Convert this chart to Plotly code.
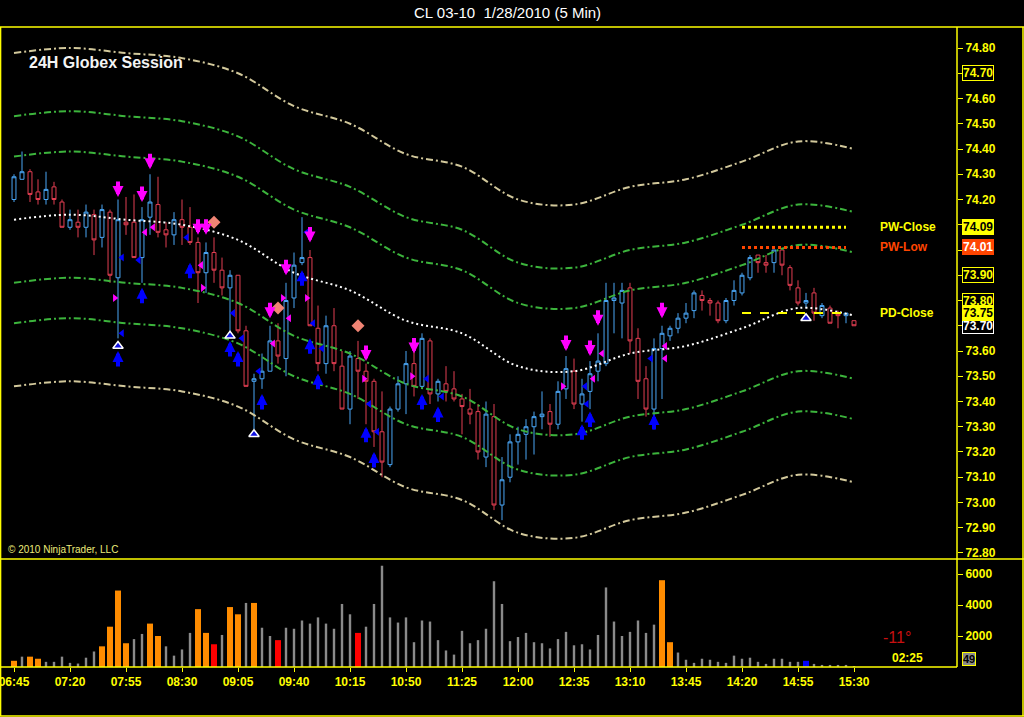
import plotly.graph_objects as go

# ---------------- data ----------------
time_labels = ["06:45", "07:20", "07:55", "08:30", "09:05", "09:40", "10:15", "10:50",
               "11:25", "12:00", "12:35", "13:10", "13:45", "14:20", "14:55", "15:30"]
label_bars = [0, 7, 14, 21, 28, 35, 42, 49, 56, 63, 70, 77, 84, 91, 98, 105]

opens = [74.20, 74.28, 74.31, 74.23, 74.20, 74.25, 74.19, 74.09, 74.11, 74.09,
         74.14, 74.05, 74.15, 73.89, 74.11, 74.11, 73.97, 74.13, 74.18, 74.08,
         74.06, 74.12, 74.09, 74.03, 73.91, 73.99, 73.92, 73.85, 73.90, 73.68,
         73.48, 73.49, 73.52, 73.64, 73.57, 73.81, 73.95, 73.97, 73.69, 73.55,
         73.70, 73.54, 73.37, 73.57, 73.52, 73.48, 73.28, 73.15, 73.37, 73.47,
         73.55, 73.46, 73.64, 73.43, 73.47, 73.45, 73.41, 73.37, 73.36, 73.18,
         73.34, 72.99, 73.10, 73.24, 73.27, 73.30, 73.34, 73.36, 73.31, 73.45,
         73.52, 73.39, 73.44, 73.52, 73.55, 73.80, 73.79, 73.85, 73.65, 73.49,
         73.37, 73.61, 73.66, 73.69, 73.73, 73.76, 73.82, 73.80, 73.79, 73.72,
         73.80, 73.83, 73.89, 73.98, 73.95, 73.95, 74.00, 73.93, 73.85, 73.79,
         73.83, 73.74, 73.77, 73.75, 73.74, 73.72]
highs = [74.30, 74.39, 74.32, 74.28, 74.31, 74.27, 74.20, 74.16, 74.16, 74.18,
         74.16, 74.18, 74.16, 74.20, 74.21, 74.22, 74.17, 74.30, 74.29, 74.11,
         74.15, 74.20, 74.17, 74.05, 74.03, 74.05, 73.97, 73.92, 73.90, 73.70,
         73.51, 73.59, 73.70, 73.71, 73.87, 73.99, 74.13, 74.00, 73.78, 73.74,
         73.77, 73.60, 73.60, 73.64, 73.55, 73.49, 73.44, 73.38, 73.50, 73.60,
         73.60, 73.67, 73.65, 73.49, 73.54, 73.52, 73.43, 73.45, 73.39, 73.40,
         73.39, 73.18, 73.27, 73.30, 73.33, 73.36, 73.44, 73.39, 73.48, 73.58,
         73.57, 73.49, 73.56, 73.67, 73.87, 73.87, 73.87, 73.87, 73.69, 73.54,
         73.65, 73.70, 73.70, 73.75, 73.79, 73.84, 73.84, 73.81, 73.80, 73.81,
         73.88, 73.91, 73.98, 73.98, 73.98, 74.00, 74.00, 73.94, 73.88, 73.83,
         73.85, 73.79, 73.78, 73.76, 73.75, 73.72]
lows = [74.19, 74.28, 74.19, 74.18, 74.18, 74.18, 74.09, 74.08, 74.05, 74.05,
        73.98, 74.01, 73.87, 73.65, 74.06, 73.97, 73.87, 74.06, 74.05, 74.01,
        74.02, 74.02, 74.02, 73.79, 73.83, 73.87, 73.82, 73.68, 73.67, 73.46,
        73.29, 73.45, 73.52, 73.55, 73.50, 73.77, 73.94, 73.70, 73.52, 73.51,
        73.52, 73.37, 73.31, 73.41, 73.31, 73.22, 73.10, 73.14, 73.36, 73.35,
        73.42, 73.45, 73.39, 73.40, 73.40, 73.40, 73.27, 73.31, 73.17, 73.14,
        72.97, 72.93, 73.08, 73.15, 73.17, 73.19, 73.29, 73.26, 73.29, 73.41,
        73.37, 73.32, 73.37, 73.48, 73.54, 73.67, 73.65, 73.59, 73.41, 73.34,
        73.29, 73.41, 73.64, 73.67, 73.71, 73.73, 73.76, 73.74, 73.71, 73.71,
        73.78, 73.82, 73.88, 73.91, 73.91, 73.91, 73.90, 73.84, 73.78, 73.77,
        73.72, 73.73, 73.71, 73.69, 73.71, 73.70]
closes = [74.29, 74.31, 74.22, 74.20, 74.24, 74.20, 74.09, 74.12, 74.09, 74.15,
          74.04, 74.16, 73.90, 74.12, 74.10, 73.97, 74.12, 74.19, 74.07, 74.06,
          74.12, 74.09, 74.03, 73.91, 73.99, 73.92, 73.85, 73.90, 73.68, 73.46,
          73.49, 73.52, 73.64, 73.58, 73.80, 73.94, 73.97, 73.70, 73.55, 73.70,
          73.55, 73.37, 73.58, 73.52, 73.48, 73.28, 73.16, 73.37, 73.47, 73.55,
          73.46, 73.65, 73.43, 73.48, 73.44, 73.41, 73.38, 73.35, 73.20, 73.35,
          72.99, 73.09, 73.24, 73.27, 73.30, 73.34, 73.35, 73.31, 73.44, 73.53,
          73.39, 73.43, 73.51, 73.56, 73.80, 73.81, 73.84, 73.64, 73.48, 73.37,
          73.61, 73.67, 73.69, 73.73, 73.75, 73.83, 73.80, 73.79, 73.72, 73.80,
          73.84, 73.90, 73.97, 73.95, 73.94, 74.00, 73.94, 73.86, 73.79, 73.80,
          73.75, 73.78, 73.71, 73.74, 73.75, 73.70]

volumes = [400, 667, 667, 533, 333, 333, 667, 267, 222, 600,
           1000, 1333, 2600, 4933, 1533, 1800, 2133, 2800, 2000, 1333,
           733, 1133, 2200, 3733, 2200, 1467, 2067, 3867, 3400, 4133,
           4133, 2533, 2000, 1733, 2533, 2467, 3000, 2800, 3200, 2800,
           2467, 4067, 3400, 2200, 2600, 4067, 6533, 3200, 2867, 3200,
           1600, 3000, 2933, 1733, 1067, 800, 2333, 1533, 1733, 2467,
           5533, 4067, 1667, 1933, 2200, 1600, 1533, 1200, 1800, 2267,
           1400, 1467, 1133, 2067, 5133, 2933, 2000, 2267, 3000, 2200,
           2733, 5600, 1600, 933, 467, 267, 533, 467, 333, 267,
           733, 533, 600, 333, 200, 533, 533, 333, 333, 400,
           200, 133, 133, 133, 133, 49]
orange_vol_bars = [0, 2, 3, 11, 12, 13, 14, 17, 18, 23, 24, 27, 28, 30, 81, 82]
red_vol_bars = [25, 33, 43]
blue_vol_bars = [99]

band_bars = label_bars
band_mid = [74.12, 74.14, 74.12, 74.10, 74.04, 73.91, 73.84, 73.72, 73.67, 73.54,
            73.52, 73.59, 73.62, 73.69, 73.77, 73.74]
band_up1 = [74.37, 74.39, 74.37, 74.35, 74.29, 74.16, 74.09, 73.97, 73.92, 73.79,
            73.77, 73.84, 73.87, 73.94, 74.02, 73.99]
band_up2 = [74.53, 74.55, 74.53, 74.51, 74.45, 74.32, 74.25, 74.13, 74.08, 73.95,
            73.93, 74.00, 74.03, 74.10, 74.18, 74.15]
band_up3 = [74.78, 74.80, 74.78, 74.76, 74.70, 74.57, 74.50, 74.38, 74.33, 74.20,
            74.18, 74.25, 74.28, 74.35, 74.43, 74.40]
band_dn1 = [73.87, 73.89, 73.87, 73.85, 73.79, 73.66, 73.59, 73.47, 73.42, 73.29,
            73.27, 73.34, 73.37, 73.44, 73.52, 73.49]
band_dn2 = [73.71, 73.73, 73.71, 73.69, 73.63, 73.50, 73.43, 73.31, 73.26, 73.13,
            73.11, 73.18, 73.21, 73.28, 73.36, 73.33]
band_dn3 = [73.46, 73.48, 73.46, 73.44, 73.38, 73.25, 73.18, 73.06, 73.01, 72.88,
            72.86, 72.93, 72.96, 73.03, 73.11, 73.08]

mag_down_bars = [13, 16, 17, 23, 24, 32, 34, 37, 44, 50, 69, 72, 73, 81]
mag_down_price = [74.21, 74.19, 74.32, 74.06, 74.06, 73.73, 73.90, 74.03, 73.56, 73.59,
                  73.60, 73.58, 73.70, 73.73]
blue_up_bars = [13, 16, 22, 27, 28, 31, 36, 37, 38, 44, 45, 51, 53, 71, 72, 80]
blue_up_price = [73.60, 73.85, 73.95, 73.64, 73.60, 73.43, 73.92, 73.65, 73.51, 73.30,
                 73.20, 73.43, 73.38, 73.31, 73.36, 73.35]
tri_bars = [13, 27, 30, 99]
tri_price = [73.62, 73.66, 73.27, 73.73]
diamond_bars = [25, 33, 43]
diamond_price = [74.11, 73.77, 73.70]
mag_right_pos = [12.6, 23.6, 33.6, 36.6, 43.75, 49.75, 68.6]
mag_right_price = [73.81, 73.85, 73.81, 73.81, 73.49, 73.50, 73.46]
mag_left_pos = [16.4, 17.4, 23.4, 32.4, 34.4, 72.4, 73.5, 81.4, 81.4]
mag_left_price = [74.07, 74.09, 73.94, 73.63, 73.73, 73.49, 73.59, 73.62, 73.57]
blue_left_pos = [13.5, 15.6, 21.6, 13.5, 27.4, 28.5, 30.6, 36.6, 37.4, 38.5,
                 44.4, 45.4, 51.6, 53.5, 71.4, 71.6, 79.6]
blue_left_price = [73.97, 73.96, 74.05, 73.67, 73.75, 73.65, 73.52, 74.07, 73.71, 73.61,
                   73.39, 73.28, 73.49, 73.42, 73.46, 73.39, 73.57]

pw_close = 74.09
pw_low = 74.01
pd_close = 73.75
level_from, level_to = 91, 104
outline_tags = [74.70, 73.90, 73.80]
price_ticks = [72.80, 72.90, 73.00, 73.10, 73.20, 73.30, 73.40, 73.50, 73.60, 73.70,
               73.80, 73.90, 74.00, 74.10, 74.20, 74.30, 74.40, 74.50, 74.60, 74.70, 74.80]
volume_ticks = [2000, 4000, 6000]

# ---------------- figure ----------------
YEL = "#FFFF00"
FONT = "Liberation Sans"
bars = list(range(len(opens)))
fig = go.Figure()

band_specs = [
    (band_up3, "#D2C89B", "7px,3px,2px,3px"),
    (band_up2, "#3CB43C", "7px,3px,2px,3px"),
    (band_up1, "#3CB43C", "7px,3px,2px,3px"),
    (band_mid, "#FFFFFF", "2px,3px"),
    (band_dn1, "#3CB43C", "7px,3px,2px,3px"),
    (band_dn2, "#3CB43C", "7px,3px,2px,3px"),
    (band_dn3, "#D2C89B", "7px,3px,2px,3px"),
]
for vals, col, dash in band_specs:
    fig.add_trace(go.Scatter(x=band_bars, y=vals, mode="lines", xaxis="x", yaxis="y",
                             line=dict(color=col, width=2, dash=dash, shape="spline", smoothing=1.0),
                             hoverinfo="skip"))

fig.add_trace(go.Candlestick(
    x=bars, open=opens, high=highs, low=lows, close=closes, xaxis="x", yaxis="y",
    increasing=dict(line=dict(color="#4AA6F5", width=1), fillcolor="rgba(0,0,0,0)"),
    decreasing=dict(line=dict(color="#E23E52", width=1), fillcolor="rgba(0,0,0,0)"),
    whiskerwidth=0))

# key levels
for lvl, col, dash, w in [(pw_close, YEL, "dot", 3), (pw_low, "#FF4500", "dot", 3),
                          (pd_close, YEL, "dash", 2)]:
    fig.add_trace(go.Scatter(x=[level_from, level_to], y=[lvl, lvl], mode="lines",
                             xaxis="x", yaxis="y", line=dict(color=col, width=w, dash=dash),
                             hoverinfo="skip"))

# small triangles
fig.add_trace(go.Scatter(x=mag_right_pos, y=mag_right_price, mode="markers", xaxis="x", yaxis="y",
                         marker=dict(symbol="triangle-right", size=7, color="#FF00FF")))
fig.add_trace(go.Scatter(x=mag_left_pos, y=mag_left_price, mode="markers", xaxis="x", yaxis="y",
                         marker=dict(symbol="triangle-left", size=7, color="#FF00FF")))
fig.add_trace(go.Scatter(x=blue_left_pos, y=blue_left_price, mode="markers", xaxis="x", yaxis="y",
                         marker=dict(symbol="triangle-left", size=7, color="#0000FF")))
fig.add_trace(go.Scatter(x=diamond_bars, y=diamond_price, mode="markers", xaxis="x", yaxis="y",
                         marker=dict(symbol="diamond", size=10, color="#F08474")))
fig.add_trace(go.Scatter(x=tri_bars, y=tri_price, mode="markers", xaxis="x", yaxis="y",
                         marker=dict(symbol="triangle-up", size=9, color="#1010E0",
                                     line=dict(color="white", width=1.5))))

# volume
hl = set(orange_vol_bars) | set(red_vol_bars) | set(blue_vol_bars)
gx = [i for i in bars if i not in hl]
fig.add_trace(go.Bar(x=gx, y=[volumes[i] for i in gx], width=0.3, xaxis="x", yaxis="y2",
                     marker=dict(color="#8A8A8A", line=dict(width=0))))
hx = sorted(hl)
hcol = ["#FF8C00" if i in orange_vol_bars else ("#FF0000" if i in red_vol_bars else "#0000FF")
        for i in hx]
fig.add_trace(go.Bar(x=hx, y=[volumes[i] for i in hx], width=0.75, xaxis="x", yaxis="y2",
                     marker=dict(color=hcol, line=dict(width=0))))

annotations = []
for b, p in zip(mag_down_bars, mag_down_price):
    annotations.append(dict(x=b, y=p, xref="x", yref="y", text="", showarrow=True,
                            ax=0, ay=-17, arrowhead=2, arrowsize=0.55, arrowwidth=4,
                            arrowcolor="#FF00FF"))
for b, p in zip(blue_up_bars, blue_up_price):
    annotations.append(dict(x=b, y=p, xref="x", yref="y", text="", showarrow=True,
                            ax=0, ay=17, arrowhead=2, arrowsize=0.55, arrowwidth=4,
                            arrowcolor="#0000FF"))

# level labels
for lvl, txt, col in [(pw_close, "PW-Close", YEL), (pw_low, "PW-Low", "#FF4500"),
                      (pd_close, "PD-Close", YEL)]:
    annotations.append(dict(x=108, y=lvl, xref="x", yref="y", text=txt, showarrow=False,
                            xanchor="left", yanchor="middle",
                            font=dict(family=FONT, size=12, color=col, weight="bold")))

tag_x = 1 + 5 / 957
for v in outline_tags:
    annotations.append(dict(x=tag_x, y=v, xref="paper", yref="y", text=f"{v:.2f}", showarrow=False,
                            xanchor="left", yanchor="middle", bgcolor="black", bordercolor=YEL,
                            borderwidth=1, borderpad=0,
                            font=dict(family=FONT, size=12, color=YEL, weight="bold")))
for v, bg, fg, bc in [(closes[-1], "black", "white", "white"), (pw_close, YEL, "black", YEL),
                      (pw_low, "#FF4500", "white", "#FF4500"), (pd_close, YEL, "black", YEL)]:
    annotations.append(dict(x=tag_x, y=v, xref="paper", yref="y", text=f"{v:.2f}", showarrow=False,
                            xanchor="left", yanchor="middle", bgcolor=bg, bordercolor=bc,
                            borderwidth=1, borderpad=0,
                            font=dict(family=FONT, size=12, color=fg, weight="bold")))
annotations.append(dict(x=tag_x, y=volumes[-1], xref="paper", yref="y2", text=f"{volumes[-1]}",
                        showarrow=False, xanchor="left", yanchor="bottom", bgcolor="#8A8A8A",
                        bordercolor=YEL, borderwidth=1, borderpad=0,
                        font=dict(family=FONT, size=11, color="black", weight="bold")))

annotations += [
    dict(x=507 / 957, y=(667 - 13) / 640, xref="paper", yref="paper", yanchor="middle",
         text="CL 03-10\u00a0\u00a01/28/2010 (5 Min)", showarrow=False,
         font=dict(family=FONT, size=15, color="white")),
    dict(x=27 / 957, y=(667 - 62) / 640, xref="paper", yref="paper", text="24H Globex Session",
         showarrow=False, xanchor="left", yanchor="middle",
         font=dict(family=FONT, size=16, color="#F4F4F4", weight="bold")),
    dict(x=6 / 957, y=(667 - 549) / 640, xref="paper", yref="paper", text="© 2010 NinjaTrader, LLC",
         showarrow=False, xanchor="left", yanchor="middle",
         font=dict(family=FONT, size=10, color="#EDED7A")),
    dict(x=913 / 957, y=(667 - 637) / 640, xref="paper", yref="paper", text="-11°",
         showarrow=False, yanchor="middle", font=dict(family=FONT, size=16, color="#C81010")),
    dict(x=925 / 957, y=(667 - 658) / 640, xref="paper", yref="paper", text="02:25",
         showarrow=False, yanchor="middle",
         font=dict(family=FONT, size=12, color=YEL, weight="bold")),
]

covered = outline_tags + [74.10, 74.00, 73.70]
price_text = ["" if any(abs(t - h) < 0.045 for h in covered) else f"{t:.2f}" for t in price_ticks]

bot = (667 - 716) / 640
right = 1023 / 957
shapes = []
for x0, y0, x1, y1 in [(0, 1, right + 0.01, 1), (0, 0.16875, right + 0.01, 0.16875), (0, 0, 1, 0),
                       (0, bot, right + 0.01, bot), (0.0006, bot, 0.0006, 1), (right, bot, right, 1),
                       (1, 0, 1, 1)]:
    shapes.append(dict(type="line", xref="paper", yref="paper", x0=x0, y0=y0, x1=x1, y1=y1,
                       line=dict(color=YEL, width=1.5), layer="above"))

tickfont = dict(family=FONT, size=12, color=YEL, weight="bold")
fig.update_layout(
    width=1024, height=717, margin=dict(l=0, r=67, t=27, b=50),
    paper_bgcolor="black", plot_bgcolor="black", showlegend=False, barmode="overlay",
    xaxis=dict(range=[-1.75, 117.875], anchor="y2", tickvals=label_bars, ticktext=time_labels,
               tickfont=tickfont, ticks="outside", ticklen=4, tickcolor=YEL, showgrid=False,
               zeroline=False, showline=False, rangeslider=dict(visible=False),
               ticklabeloverflow="allow"),
    yaxis=dict(domain=[0.16875, 1], range=[72.7762, 74.8832], side="right", anchor="x",
               tickvals=price_ticks, ticktext=price_text, tickfont=tickfont, ticks="outside",
               ticklen=5, tickcolor=YEL, showgrid=False, zeroline=False),
    yaxis2=dict(domain=[0, 0.16875], range=[0, 6968], side="right", anchor="x",
                tickvals=volume_ticks, ticktext=[str(v) for v in volume_ticks], tickfont=tickfont,
                ticks="outside", ticklen=5, tickcolor=YEL, showgrid=False, zeroline=False),
    annotations=annotations, shapes=shapes,
)

fig.write_html("out.html", config={"displayModeBar": False},
               post_script="document.body.style.margin='0px';")
